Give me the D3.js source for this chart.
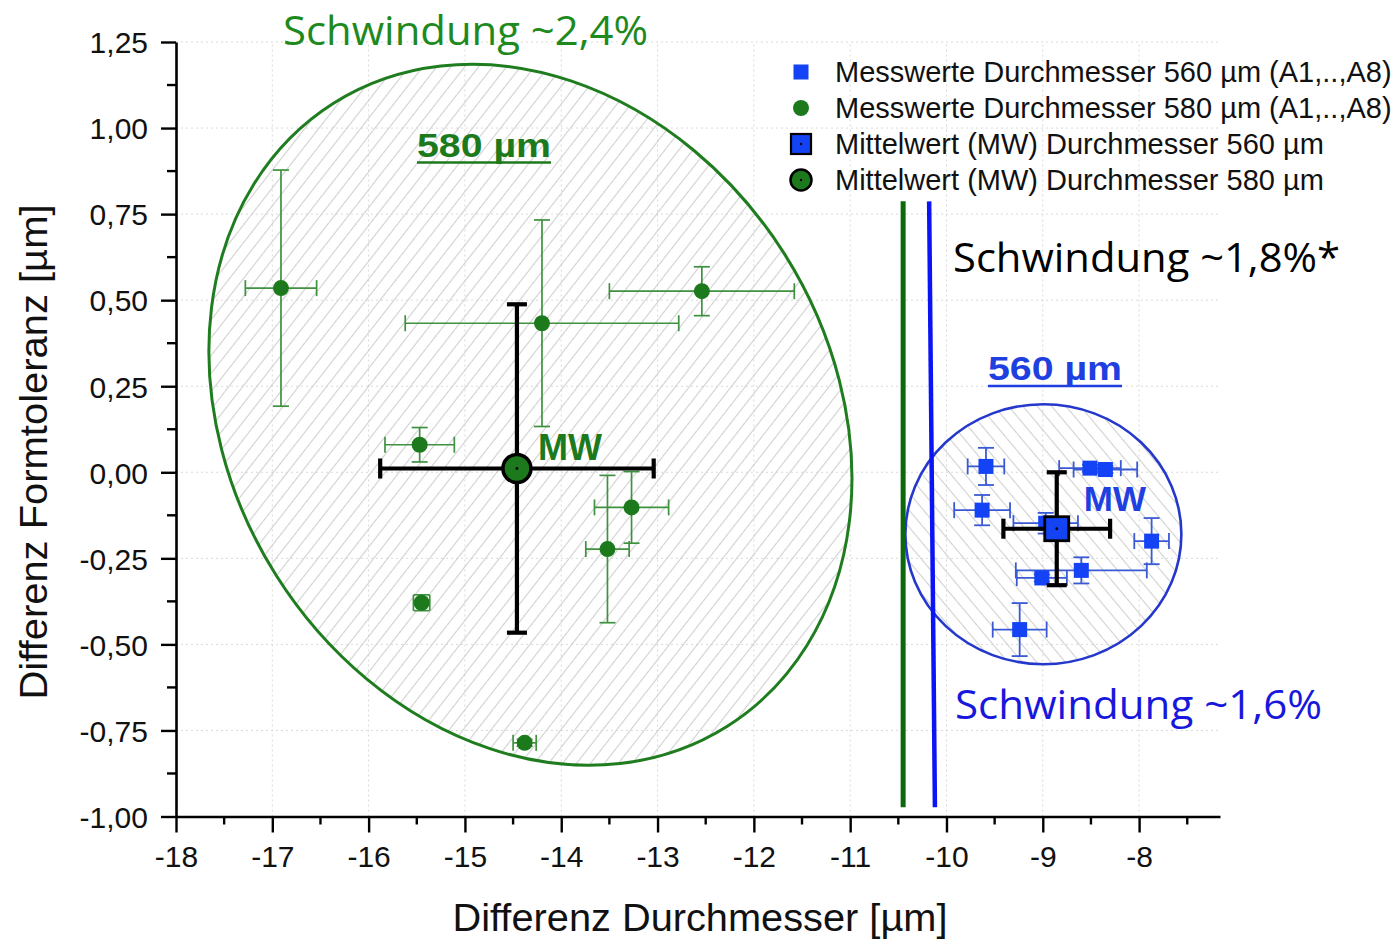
<!DOCTYPE html>
<html>
<head>
<meta charset="utf-8">
<script src="https://cdn.jsdelivr.net/npm/d3@7"></script>
<style>
  body { margin: 0; background: #fff; }
  svg { display: block; }
</style>
</head>
<body>
<svg id="chart" width="1396" height="940"></svg>
<script>
// ---- axis ticks ----
const xTicks = [-18, -17, -16, -15, -14, -13, -12, -11, -10, -9, -8];
const yTicks = [-1.00, -0.75, -0.50, -0.25, 0.00, 0.25, 0.50, 0.75, 1.00, 1.25];

// ---- measured values, Ø 580 µm (A1..A8) ----
const d580X    = [-16.91, -14.20, -12.54, -15.47, -13.27, -13.52, -15.45, -14.38];
const d580Y    = [0.535, 0.433, 0.526, 0.080, -0.102, -0.223, -0.379, -0.786];
const d580XErr = [0.37, 1.42, 0.96, 0.36, 0.385, 0.225, 0.085, 0.12];
const d580YErr = [0.343, 0.30, 0.071, 0.05, 0.104, 0.214, 0.023, 0.01];

// ---- measured values, Ø 560 µm ----
const d560X    = [-9.59, -9.63, -8.51, -8.35, -8.97, -7.87, -8.60, -9.01, -9.24];
const d560Y    = [0.017, -0.110, 0.012, 0.008, -0.148, -0.200, -0.285, -0.307, -0.457];
const d560XErr = [0.19, 0.29, 0.32, 0.33, 0.335, 0.18, 0.68, 0.26, 0.28];
const d560YErr = [0.054, 0.044, 0.01, 0.01, 0.03, 0.067, 0.038, 0.01, 0.077];

// ---- mean values (MW) with spread ----
const meanLabels = ["580", "560"];
const meanX    = [-14.46, -8.855];
const meanY    = [0.011, -0.164];
const meanXErr = [1.42, 0.554];
const meanYErr = [0.477, 0.164];

// ---- shrinkage limits (Schwindung) ----
const limit580X = [-10.45, -10.45];   // top, bottom
const limit560X = [-10.18, -10.12];
const limitY    = [0.787, -0.973];

// ---- cluster outlines: centre in data units ----
const cluster580Centre = [-14.32, 0.167];
const cluster560Centre = [-8.994, -0.180];

const legendLabels = [
  "Messwerte Durchmesser 560 µm (A1,..,A8)",
  "Messwerte Durchmesser 580 µm (A1,..,A8)",
  "Mittelwert (MW) Durchmesser 560 µm",
  "Mittelwert (MW) Durchmesser 580 µm"
];

// ---- styles ----
const GREEN = "#1c7a1c";
const GREEN_ERR = "#3f913f";
const GREEN_EDGE = "#1f7d1f";
const GREEN_LIMIT = "#0b690b";
const BLUE = "#1443f5";
const BLUE_ERR = "#3a5ad4";
const BLUE_EDGE = "#2438cc";
const BLUE_LIMIT = "#0a14f5";
const SANS = "'Liberation Sans', Arial, sans-serif";
const TEXTFONT = "'Open Sans', 'Noto Sans', sans-serif";

const svg = d3.select("#chart");
const x = d3.scaleLinear().domain([-18, -7.16]).range([176, 1220]);
const y = d3.scaleLinear().domain([-1, 1.25]).range([816.5, 42]);

const defs = svg.append("defs");
function hatch(id, angle) {
  defs.append("pattern")
    .attr("id", id)
    .attr("patternUnits", "userSpaceOnUse")
    .attr("width", 11).attr("height", 11)
    .attr("patternTransform", `rotate(${angle})`)
    .append("line")
    .attr("x1", 5.5).attr("y1", -1).attr("x2", 5.5).attr("y2", 12)
    .attr("stroke", "#d0d0d0").attr("stroke-width", 1.1);
}
// the 580 outline is rotated itself, so its hatch angle is given relative to it
const tilt580 = 57.7;
hatch("hatch580", 38 - tilt580);
hatch("hatch560", -40);

// ---- grid ----
const grid = svg.append("g").attr("stroke", "#d9d9d9").attr("stroke-width", 1).attr("stroke-dasharray", "2,3");
grid.selectAll(".gx").data(xTicks.slice(1)).join("line")
  .attr("x1", d => x(d)).attr("x2", d => x(d))
  .attr("y1", y(-1)).attr("y2", y(1.25));
grid.selectAll(".gy").data(yTicks.slice(1)).join("line")
  .attr("x1", x(-18)).attr("x2", x.range()[1])
  .attr("y1", d => y(d)).attr("y2", d => y(d));

// ---- cluster ellipses ----
const c580 = [x(cluster580Centre[0]), y(cluster580Centre[1])];
svg.append("ellipse")
  .attr("cx", c580[0]).attr("cy", c580[1])
  .attr("rx", 368.5).attr("ry", 300.7)
  .attr("transform", `rotate(${tilt580} ${c580[0]} ${c580[1]})`)
  .attr("fill", "url(#hatch580)")
  .attr("stroke", GREEN_EDGE).attr("stroke-width", 3);

const c560 = [x(cluster560Centre[0]), y(cluster560Centre[1])];
svg.append("ellipse")
  .attr("cx", c560[0]).attr("cy", c560[1])
  .attr("rx", 138).attr("ry", 130)
  .attr("fill", "url(#hatch560)")
  .attr("stroke", BLUE_EDGE).attr("stroke-width", 2.6);

// ---- shrinkage limit lines ----
svg.append("line")
  .attr("x1", x(limit580X[0])).attr("y1", y(limitY[0]))
  .attr("x2", x(limit580X[1])).attr("y2", y(limitY[1]))
  .attr("stroke", GREEN_LIMIT).attr("stroke-width", 5);
svg.append("line")
  .attr("x1", x(limit560X[0])).attr("y1", y(limitY[0]))
  .attr("x2", x(limit560X[1])).attr("y2", y(limitY[1]))
  .attr("stroke", BLUE_LIMIT).attr("stroke-width", 4.5);

// ---- axes ----
const fmtY = d => d.toFixed(2).replace(".", ",");
const yAxis = svg.append("g")
  .attr("transform", `translate(${x(-18)},0)`)
  .call(d3.axisLeft(y).tickValues(yTicks).tickFormat(fmtY).tickSize(15).tickSizeOuter(0).tickPadding(13));
const xAxis = svg.append("g")
  .attr("transform", `translate(0,${y(-1)})`)
  .call(d3.axisBottom(x).tickValues(xTicks).tickFormat(d => String(d)).tickSize(16).tickSizeOuter(0).tickPadding(13));
[yAxis, xAxis].forEach(a => {
  a.select(".domain").attr("stroke", "#000").attr("stroke-width", 2.6);
  a.selectAll(".tick line").attr("stroke", "#000").attr("stroke-width", 2.4);
  a.selectAll(".tick text").attr("font-family", SANS).attr("font-size", 30).attr("fill", "#111");
});
yAxis.selectAll(".tick text").attr("dy", "0.36em");

const yMinor = d3.range(-0.875, 1.25, 0.25);
svg.append("g").selectAll("line").data(yMinor).join("line")
  .attr("x1", x(-18) - 9).attr("x2", x(-18))
  .attr("y1", d => y(d)).attr("y2", d => y(d))
  .attr("stroke", "#000").attr("stroke-width", 2.4);
const xMinor = d3.range(-17.5, -7.2, 1);
svg.append("g").selectAll("line").data(xMinor).join("line")
  .attr("x1", d => x(d)).attr("x2", d => x(d))
  .attr("y1", y(-1)).attr("y2", y(-1) + 8)
  .attr("stroke", "#000").attr("stroke-width", 2.4);

// axis titles
svg.append("text")
  .attr("x", (x(-18) + x.range()[1]) / 2 + 2).attr("y", 931)
  .attr("text-anchor", "middle")
  .attr("font-family", SANS).attr("font-size", 38).attr("fill", "#111")
  .attr("textLength", 495).attr("lengthAdjust", "spacingAndGlyphs")
  .text("Differenz Durchmesser [µm]");
svg.append("text")
  .attr("transform", `translate(47,${452}) rotate(-90)`)
  .attr("text-anchor", "middle")
  .attr("font-family", SANS).attr("font-size", 38).attr("fill", "#111")
  .attr("textLength", 495).attr("lengthAdjust", "spacingAndGlyphs")
  .text("Differenz Formtoleranz [µm]");

// ---- error bars ----
function errorBars(g, xs, ys, xe, ye, color, width, cap) {
  const idx = d3.range(xs.length);
  const sel = g.selectAll("g.eb").data(idx).join("g").attr("class", "eb")
    .attr("stroke", color).attr("stroke-width", width).attr("fill", "none");
  sel.append("line").attr("x1", i => x(xs[i] - xe[i])).attr("x2", i => x(xs[i] + xe[i]))
    .attr("y1", i => y(ys[i])).attr("y2", i => y(ys[i]));
  sel.append("line").attr("x1", i => x(xs[i])).attr("x2", i => x(xs[i]))
    .attr("y1", i => y(ys[i] - ye[i])).attr("y2", i => y(ys[i] + ye[i]));
  [-1, 1].forEach(s => {
    sel.append("line").attr("x1", i => x(xs[i] + s * xe[i])).attr("x2", i => x(xs[i] + s * xe[i]))
      .attr("y1", i => y(ys[i]) - cap).attr("y2", i => y(ys[i]) + cap);
    sel.append("line").attr("x1", i => x(xs[i]) - cap).attr("x2", i => x(xs[i]) + cap)
      .attr("y1", i => y(ys[i] + s * ye[i])).attr("y2", i => y(ys[i] + s * ye[i]));
  });
}

const g580 = svg.append("g");
errorBars(g580, d580X, d580Y, d580XErr, d580YErr, GREEN_ERR, 1.7, 8);
g580.selectAll("circle").data(d3.range(d580X.length)).join("circle")
  .attr("cx", i => x(d580X[i])).attr("cy", i => y(d580Y[i])).attr("r", 8)
  .attr("fill", GREEN);

const g560 = svg.append("g");
errorBars(g560, d560X, d560Y, d560XErr, d560YErr, BLUE_ERR, 1.8, 8);
g560.selectAll("rect").data(d3.range(d560X.length)).join("rect")
  .attr("x", i => x(d560X[i]) - 7.5).attr("y", i => y(d560Y[i]) - 7.5)
  .attr("width", 15).attr("height", 15)
  .attr("fill", BLUE);

// ---- means ----
const gm = svg.append("g");
errorBars(gm, meanX, meanY, meanXErr, meanYErr, "#000", 4.2, 10);
// 580 mean: circle
gm.append("circle").attr("cx", x(meanX[0])).attr("cy", y(meanY[0])).attr("r", 14)
  .attr("fill", GREEN).attr("stroke", "#000").attr("stroke-width", 3.5);
// 560 mean: square
gm.append("rect").attr("x", x(meanX[1]) - 12).attr("y", y(meanY[1]) - 12)
  .attr("width", 24).attr("height", 24)
  .attr("fill", BLUE).attr("stroke", "#000").attr("stroke-width", 2.8);
gm.selectAll("circle.dot").data([0, 1]).join("circle").attr("class", "dot")
  .attr("cx", i => x(meanX[i])).attr("cy", i => y(meanY[i])).attr("r", 1.4).attr("fill", "#000");

// ---- labels in the plot ----
const anno = svg.append("g").attr("font-family", SANS).attr("font-weight", "bold");
anno.append("text").attr("x", x(meanX[0]) + 21).attr("y", 460)
  .attr("font-size", 36).attr("fill", GREEN).text("MW");
anno.append("text").attr("x", x(meanX[1]) + 27).attr("y", 510.5)
  .attr("font-size", 35).attr("fill", "#1f3fe0").text("MW");

function underlined(tx, ty, txt, color, w) {
  anno.append("text").attr("x", tx).attr("y", ty).attr("font-size", 33).attr("fill", color)
    .attr("textLength", w).attr("lengthAdjust", "spacingAndGlyphs").text(txt);
  anno.append("line").attr("x1", tx).attr("x2", tx + w).attr("y1", ty + 6).attr("y2", ty + 6)
    .attr("stroke", color).attr("stroke-width", 2.6);
}
underlined(417, 156.5, "580 µm", GREEN, 134);
underlined(988, 380, "560 µm", "#1f3fe0", 134);

const shr = svg.append("g").attr("font-family", TEXTFONT);
shr.append("text").attr("x", 283).attr("y", 45).attr("font-size", 41).attr("fill", "#1e8a1e")
  .attr("textLength", 365).attr("lengthAdjust", "spacingAndGlyphs").text("Schwindung ~2,4%");
shr.append("text").attr("x", 953).attr("y", 272).attr("font-size", 40).attr("fill", "#000")
  .attr("textLength", 387).attr("lengthAdjust", "spacingAndGlyphs").text("Schwindung ~1,8%*");
shr.append("text").attr("x", 955).attr("y", 719).attr("font-size", 40).attr("fill", "#1818dc")
  .attr("textLength", 367).attr("lengthAdjust", "spacingAndGlyphs").text("Schwindung ~1,6%");

// ---- legend ----
const lg = svg.append("g").attr("transform", "translate(801,72)");
const rowH = 36;
lg.append("rect").attr("x", -7.5).attr("y", -7.5).attr("width", 15).attr("height", 15).attr("fill", BLUE);
lg.append("circle").attr("cx", 0).attr("cy", rowH).attr("r", 8).attr("fill", GREEN);
lg.append("rect").attr("x", -10).attr("y", 2 * rowH - 10).attr("width", 20).attr("height", 20)
  .attr("fill", BLUE).attr("stroke", "#000").attr("stroke-width", 2.2);
lg.append("circle").attr("cx", 0).attr("cy", 3 * rowH).attr("r", 10.5)
  .attr("fill", GREEN).attr("stroke", "#000").attr("stroke-width", 2.5);
[2, 3].forEach(k => lg.append("circle").attr("cx", 0).attr("cy", k * rowH).attr("r", 1.2).attr("fill", "#000"));
lg.selectAll("text").data(legendLabels).join("text")
  .attr("x", 34).attr("y", (d, i) => i * rowH + 10)
  .attr("font-family", SANS).attr("font-size", 29).attr("fill", "#111")
  .text(d => d);
</script>
</body>
</html>
